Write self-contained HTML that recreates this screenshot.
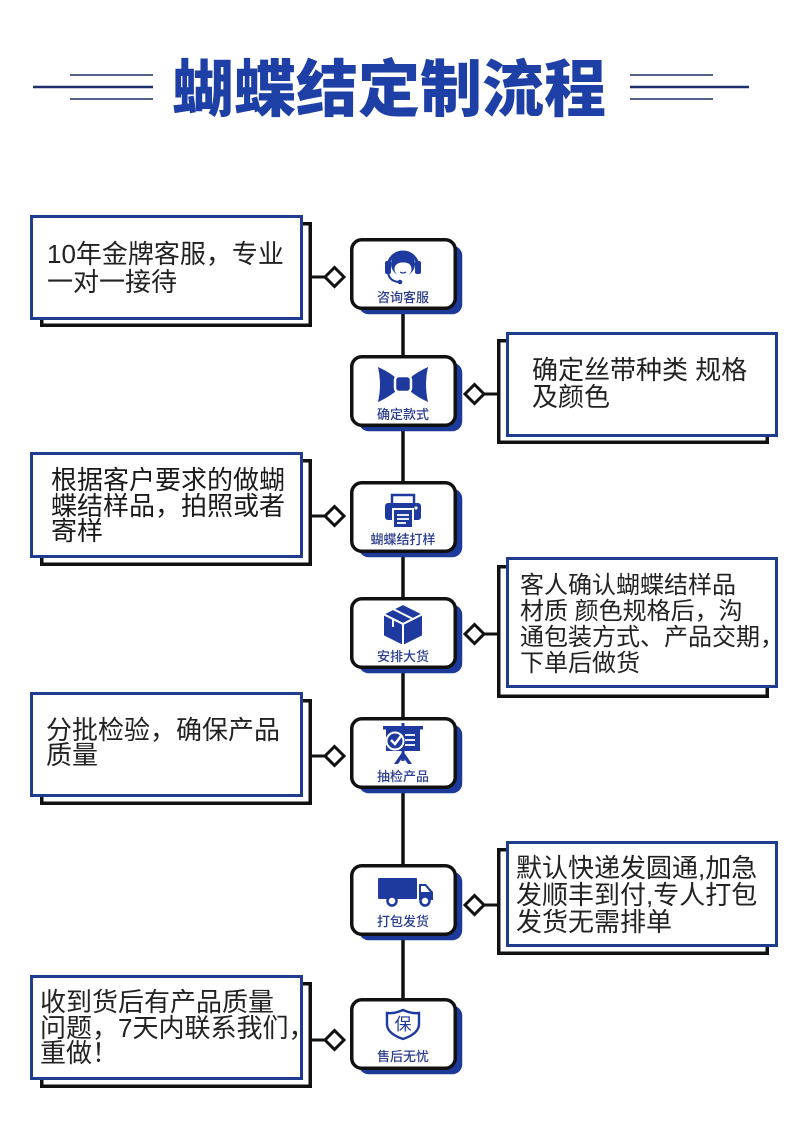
<!DOCTYPE html>
<html><head><meta charset="utf-8">
<style>
html,body{margin:0;padding:0;background:#fff;}
body{width:800px;height:1123px;position:relative;overflow:hidden;font-family:"Liberation Sans","Noto Sans CJK SC",sans-serif;}
svg{position:absolute;left:0;top:0;}
.t{position:absolute;white-space:nowrap;color:#222;font-family:"Liberation Sans","Noto Sans CJK SC",sans-serif;font-weight:400;}
.title{position:absolute;left:172px;top:53px;font-size:62px;line-height:1;font-weight:900;color:#1d3fa6;font-family:"Noto Sans CJK SC",sans-serif;white-space:nowrap;}
</style></head><body>
<svg width="800" height="1123" viewBox="0 0 800 1123">
<!-- title lines -->
<g stroke="#1e2d6b">
<line x1="70" y1="75" x2="153" y2="75" stroke-width="1.6"/>
<line x1="33" y1="87" x2="153" y2="87" stroke-width="2.6"/>
<line x1="70" y1="99" x2="153" y2="99" stroke-width="1.6"/>
<line x1="630" y1="75" x2="713" y2="75" stroke-width="1.6"/>
<line x1="630" y1="87" x2="749" y2="87" stroke-width="2.6"/>
<line x1="630" y1="99" x2="713" y2="99" stroke-width="1.6"/>
</g>
<!-- vertical line -->
<line x1="403" y1="300" x2="403" y2="1000" stroke="#111" stroke-width="3.5"/>
<!-- left boxes -->
<g fill="#fff">
<rect x="41.75" y="223.75" width="268.5" height="101.5" stroke="#111" stroke-width="3.5"/>
<rect x="31.5" y="216.5" width="270" height="102" stroke="#1f3d8e" stroke-width="3"/>
<rect x="41.75" y="460.75" width="268.5" height="103.5" stroke="#111" stroke-width="3.5"/>
<rect x="31.5" y="453.5" width="270" height="103" stroke="#1f3d8e" stroke-width="3"/>
<rect x="41.75" y="700.75" width="268.5" height="102.5" stroke="#111" stroke-width="3.5"/>
<rect x="31.5" y="693.5" width="270" height="102" stroke="#1f3d8e" stroke-width="3"/>
<rect x="41.75" y="983.75" width="268.5" height="102.5" stroke="#111" stroke-width="3.5"/>
<rect x="31.5" y="976.5" width="270" height="102" stroke="#1f3d8e" stroke-width="3"/>
<!-- right boxes -->
<rect x="498.75" y="340.75" width="268.5" height="101.5" stroke="#111" stroke-width="3.5"/>
<rect x="507.5" y="333.5" width="269" height="102" stroke="#1f3d8e" stroke-width="3"/>
<rect x="498.75" y="566.75" width="268.5" height="129.5" stroke="#111" stroke-width="3.5"/>
<rect x="507.5" y="558.5" width="269" height="128" stroke="#1f3d8e" stroke-width="3"/>
<rect x="498.75" y="849.75" width="268.5" height="103.5" stroke="#111" stroke-width="3.5"/>
<rect x="507.5" y="842.5" width="269" height="103" stroke="#1f3d8e" stroke-width="3"/>
</g>
<!-- connectors -->
<g stroke="#111" stroke-width="3" fill="#fff">
<line x1="311" y1="277" x2="326" y2="277"/>
<polygon points="325,277 334.5,267.5 344,277 334.5,286.5"/>
<line x1="311" y1="516" x2="326" y2="516"/>
<polygon points="325,516 334.5,506.5 344,516 334.5,525.5"/>
<line x1="311" y1="756" x2="326" y2="756"/>
<polygon points="325,756 334.5,746.5 344,756 334.5,765.5"/>
<line x1="311" y1="1040" x2="326" y2="1040"/>
<polygon points="325,1040 334.5,1030.5 344,1040 334.5,1049.5"/>
<line x1="483" y1="394" x2="499" y2="394"/>
<polygon points="465,394 474.5,384.5 484,394 474.5,403.5"/>
<line x1="483" y1="634" x2="499" y2="634"/>
<polygon points="465,634 474.5,624.5 484,634 474.5,643.5"/>
<line x1="483" y1="905" x2="499" y2="905"/>
<polygon points="465,905 474.5,895.5 484,905 474.5,914.5"/>
</g>
<!-- icon boxes -->
<g>
<rect x="358.75" y="245.75" width="103.5" height="68.5" rx="10" fill="#1d3a9b"/>
<rect x="351.75" y="239.75" width="103.5" height="68.5" rx="10" fill="#fff" stroke="#111" stroke-width="3.5"/>
<rect x="358.75" y="362.75" width="103.5" height="68.5" rx="10" fill="#1d3a9b"/>
<rect x="351.75" y="356.75" width="103.5" height="68.5" rx="10" fill="#fff" stroke="#111" stroke-width="3.5"/>
<rect x="358.75" y="488.75" width="103.5" height="68.5" rx="10" fill="#1d3a9b"/>
<rect x="351.75" y="482.75" width="103.5" height="68.5" rx="10" fill="#fff" stroke="#111" stroke-width="3.5"/>
<rect x="358.75" y="604.75" width="103.5" height="68.5" rx="10" fill="#1d3a9b"/>
<rect x="351.75" y="598.75" width="103.5" height="68.5" rx="10" fill="#fff" stroke="#111" stroke-width="3.5"/>
<rect x="358.75" y="724.75" width="103.5" height="68.5" rx="10" fill="#1d3a9b"/>
<rect x="351.75" y="718.75" width="103.5" height="68.5" rx="10" fill="#fff" stroke="#111" stroke-width="3.5"/>
<rect x="358.75" y="871.75" width="103.5" height="68.5" rx="10" fill="#1d3a9b"/>
<rect x="351.75" y="865.75" width="103.5" height="68.5" rx="10" fill="#fff" stroke="#111" stroke-width="3.5"/>
<rect x="358.75" y="1005.75" width="103.5" height="68.5" rx="10" fill="#1d3a9b"/>
<rect x="351.75" y="999.75" width="103.5" height="68.5" rx="10" fill="#fff" stroke="#111" stroke-width="3.5"/>
</g>
<!-- icon 1 headset -->
<g transform="translate(403,264)" fill="#1e3a9e">
<path d="M-15,3 A15,15 0 0 1 15,3" fill="none" stroke="#1e3a9e" stroke-width="3"/>
<circle cx="0" cy="0" r="12"/>
<ellipse cx="0" cy="5" rx="8.5" ry="7.5" fill="#fff"/>
<path d="M-9,3 Q-3,-5 9,1 L10,-4 L-10,-4 Z"/>
<rect x="-18" y="-3" width="6" height="13" rx="2"/>
<rect x="12" y="-3" width="6" height="13" rx="2"/>
<path d="M-15,9 Q-13,18 -3,18" fill="none" stroke="#1e3a9e" stroke-width="2"/>
<circle cx="-3" cy="18" r="2.3"/>
<path d="M-3,8 Q0,10 3,8" fill="none" stroke="#1e3a9e" stroke-width="1.2"/>
</g>
<!-- icon 2 bow -->
<g transform="translate(403,384)" fill="#1e3a9e">
<path d="M-25,-17 Q-21,0 -25,18 Q-14,13 -7,7 L-7,-6 Q-14,-12 -25,-17 Z"/>
<path d="M25,-17 Q21,0 25,18 Q14,13 7,7 L7,-6 Q14,-12 25,-17 Z"/>
<rect x="-8" y="-8" width="16" height="16" rx="4" stroke="#fff" stroke-width="2.5"/>
</g>
<!-- icon 3 printer -->
<g transform="translate(403,510)" fill="#1e3a9e">
<rect x="-11" y="-15" width="22" height="10" fill="none" stroke="#1e3a9e" stroke-width="2.5"/>
<rect x="-18" y="-7" width="36" height="17" rx="3"/>
<circle cx="13" cy="-2" r="1.6" fill="#fff"/>
<rect x="-10" y="-1" width="20" height="19" stroke="#fff" stroke-width="2"/>
<g stroke="#fff" stroke-width="1.8"><line x1="-6" y1="5" x2="6" y2="5"/><line x1="-6" y1="9" x2="6" y2="9"/><line x1="-6" y1="13" x2="3" y2="13"/></g>
</g>
<!-- icon 4 cube -->
<g transform="translate(403,625)" fill="#1e3a9e" stroke="#fff" stroke-width="2" stroke-linejoin="round">
<polygon points="0,-21 20,-11 0,-1 -20,-11"/>
<polygon points="-20,-11 0,-1 0,21 -20,11"/>
<polygon points="20,-11 0,-1 0,21 20,11"/>
<line x1="-10" y1="-16" x2="10" y2="-6"/>
<line x1="-10" y1="-6" x2="-10" y2="2"/>
</g>
<!-- icon 5 board -->
<g transform="translate(403,745)" fill="#1e3a9e">
<rect x="-1.5" y="-22" width="3" height="4"/>
<rect x="-20" y="-19" width="40" height="3.5"/>
<rect x="-17" y="-16" width="34" height="22"/>
<g stroke="#fff" stroke-width="1.8"><line x1="2" y1="-10" x2="12" y2="-10"/><line x1="2" y1="-5" x2="12" y2="-5"/><line x1="2" y1="0" x2="12" y2="0"/></g>
<circle cx="-8" cy="-4" r="8.5" stroke="#fff" stroke-width="2"/>
<path d="M-12,-5 L-8,-1 L-2,-9" fill="none" stroke="#fff" stroke-width="2.5"/>
<polygon points="0,6 -9,19 -5,19 0,12 5,19 9,19"/>
<rect x="-1.5" y="6" width="3" height="10"/>
</g>
<!-- icon 6 truck -->
<g fill="#1e3a9e">
<rect x="378" y="878" width="39" height="21" rx="1"/>
<path d="M419,884 L426,884 L433,892 L433,900 L419,900 Z"/>
<path d="M421,886 L425,886 L430,892 L421,892 Z" fill="#fff"/>
<circle cx="392" cy="901" r="4.5" fill="#fff" stroke="#1e3a9e" stroke-width="2.5"/>
<circle cx="425" cy="901" r="4.5" fill="#fff" stroke="#1e3a9e" stroke-width="2.5"/>
</g>
<!-- icon 7 shield -->
<g transform="translate(403,1024)">
<path d="M0,-14 Q9,-10 16,-11 L16,1 Q15,10 0,15 Q-15,10 -16,1 L-16,-11 Q-9,-10 0,-14 Z" fill="none" stroke="#1e3a9e" stroke-width="2.4"/>
<text x="0" y="6" text-anchor="middle" font-size="17" fill="#1e3a9e" font-family="Noto Sans CJK SC, sans-serif">保</text>
</g>
<!-- labels -->
<g font-family="Noto Sans CJK SC, sans-serif" font-size="13" fill="#2a3c8c" text-anchor="middle" font-weight="500">
<text x="403" y="302">咨询客服</text>
<text x="403" y="419">确定款式</text>
<text x="403" y="544">蝴蝶结打样</text>
<text x="403" y="661">安排大货</text>
<text x="403" y="781">抽检产品</text>
<text x="403" y="926">打包发货</text>
<text x="403" y="1061">售后无忧</text>
</g>
</svg>
<div class="title">蝴蝶结定制流程</div>
<div class="t" style="left:47px;top:240px;font-size:26px;line-height:28px;">10年金牌客服，专业<br>一对一接待</div>
<div class="t" style="left:532px;top:357px;font-size:26px;line-height:27px;">确定丝带种类 规格<br>及颜色</div>
<div class="t" style="left:51px;top:468px;font-size:26px;line-height:25.5px;color:#1a1a1a;">根据客户要求的做蝴<br>蝶结样品，拍照或者<br>寄样</div>
<div class="t" style="left:520px;top:573px;font-size:24px;line-height:26px;">客人确认蝴蝶结样品<br>材质 颜色规格后，沟<br>通包装方式、产品交期，<br>下单后做货</div>
<div class="t" style="left:46px;top:718px;font-size:26px;line-height:25px;">分批检验，确保产品<br>质量</div>
<div class="t" style="left:516px;top:855px;font-size:26px;line-height:27px;">默认快递发圆通,加急<br>发顺丰到付,专人打包<br>发货无需排单</div>
<div class="t" style="left:40px;top:990px;font-size:26px;line-height:25.5px;">收到货后有产品质量<br>问题，7天内联系我们，<br>重做！</div>
</body></html>
